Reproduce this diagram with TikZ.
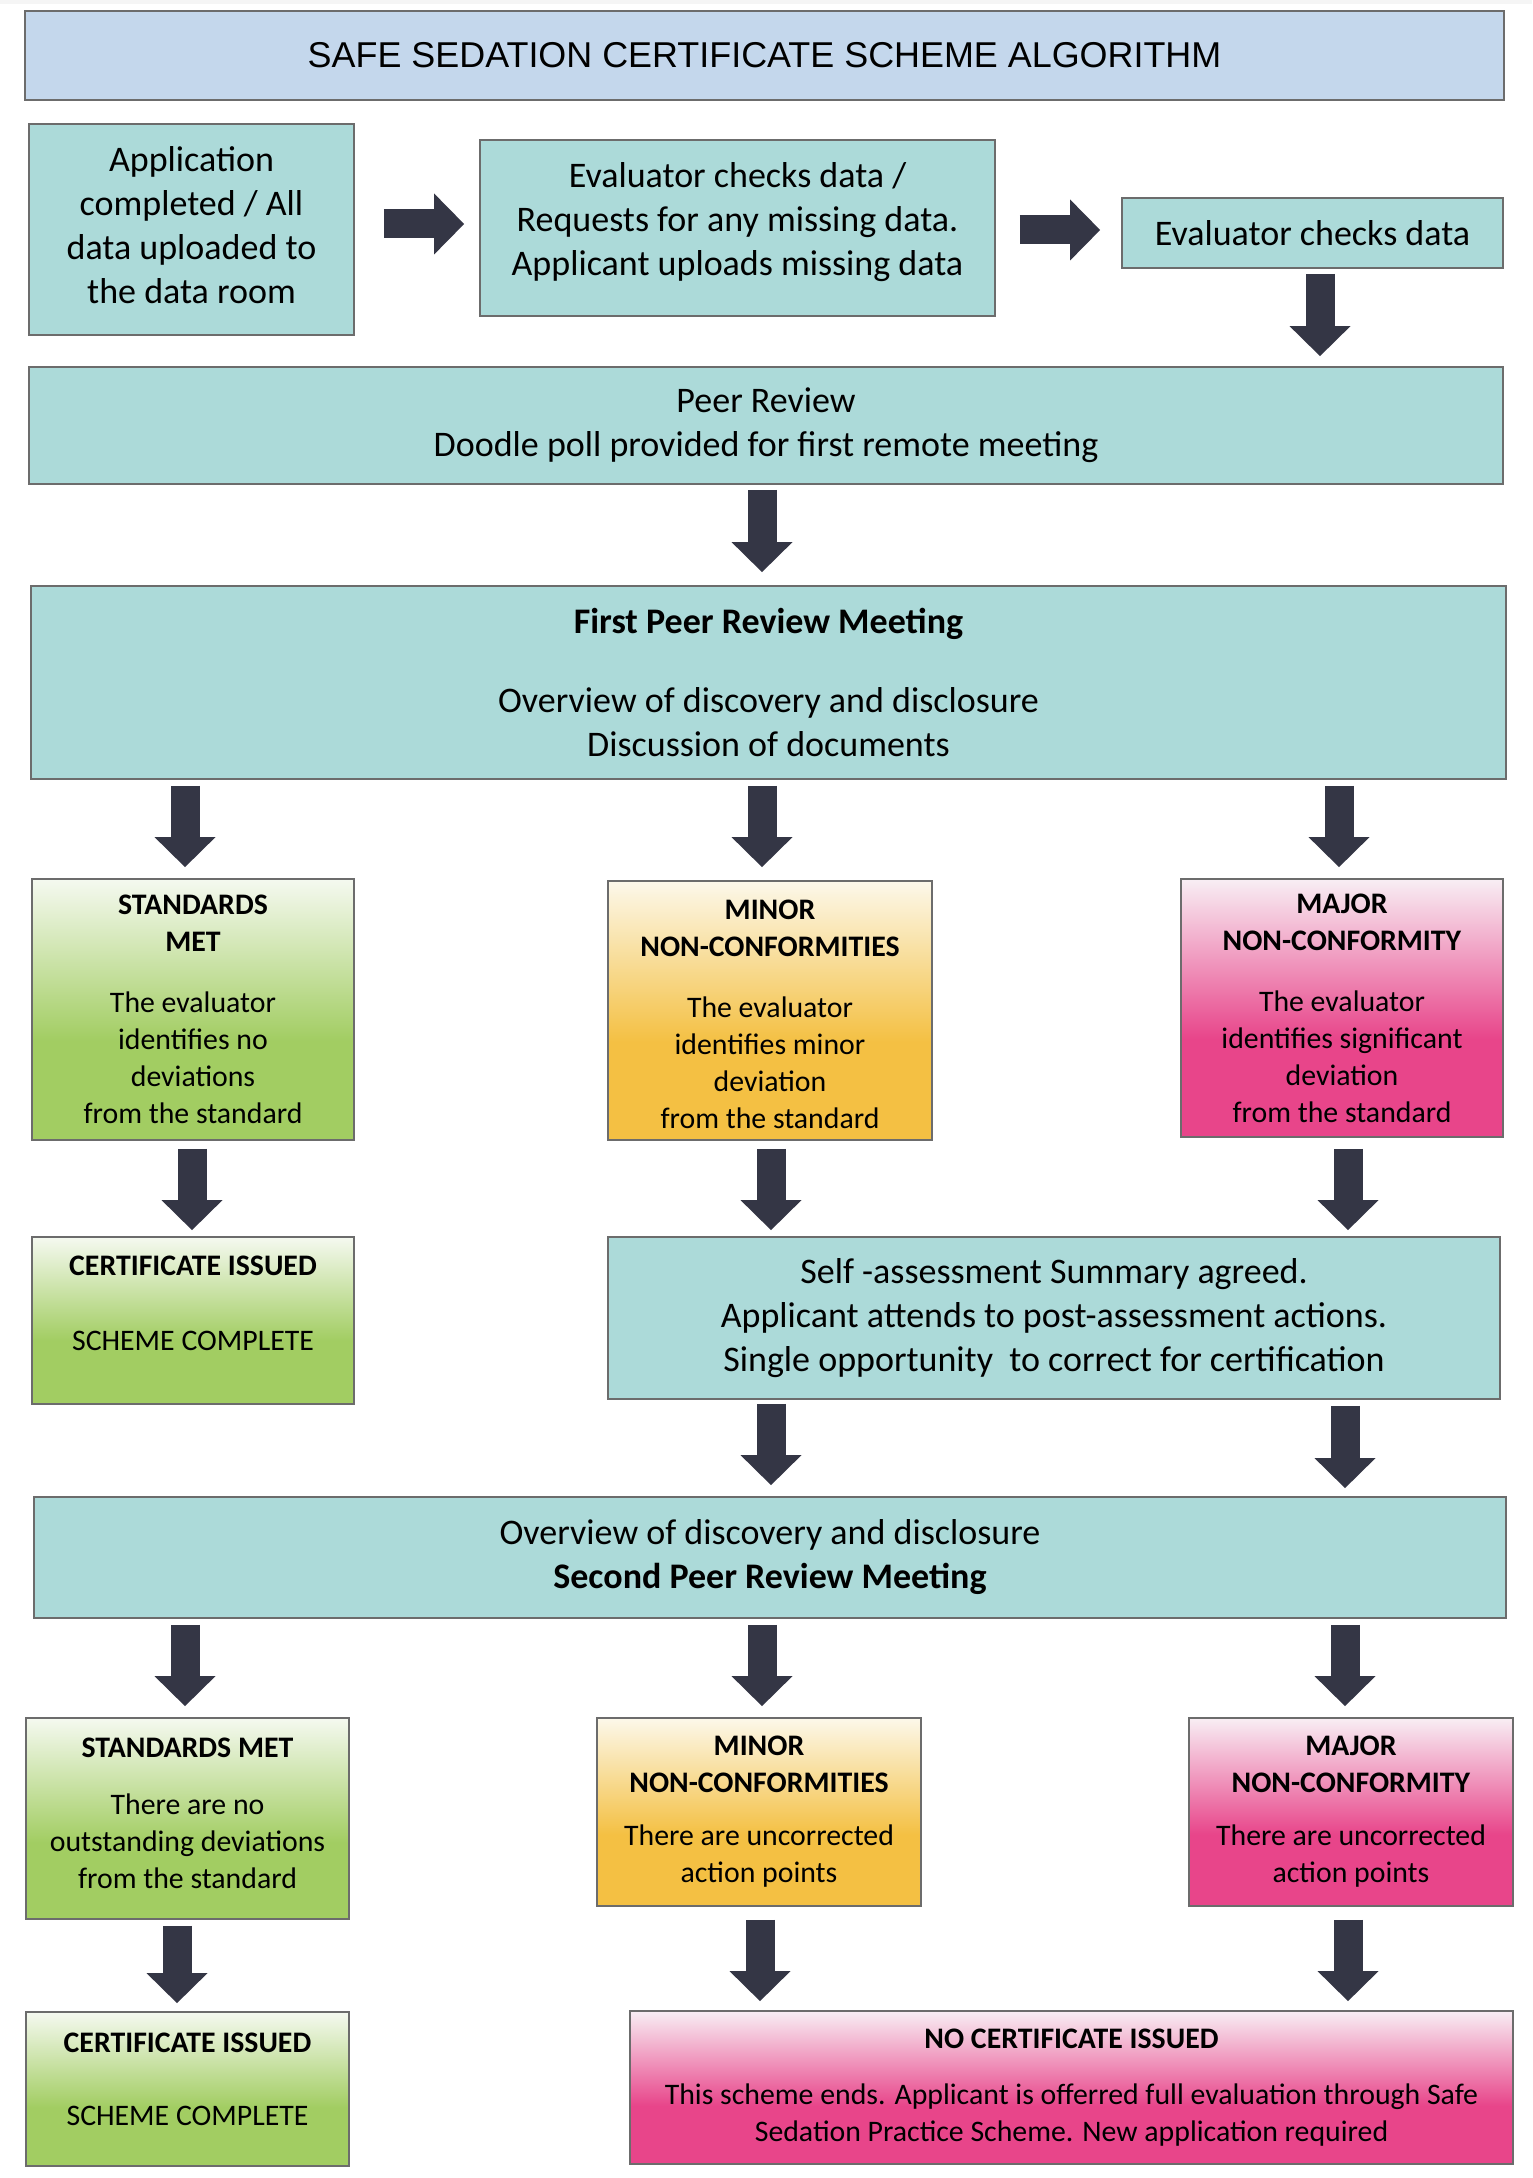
\documentclass[tikz,border=0pt]{standalone}
\usepackage{fontspec}
\setmainfont{Carlito}
\newfontfamily\arialfont{Liberation Sans}
\usetikzlibrary{arrows.meta,calc}
\definecolor{titlefill}{RGB}{196,215,236}
\definecolor{tealfill}{RGB}{172,218,217}
\definecolor{boxline}{RGB}{108,108,108}
\definecolor{arrowc}{RGB}{52,54,69}
\definecolor{greenbot}{RGB}{162,205,98}
\definecolor{greentop}{RGB}{245,249,240}
\definecolor{yellowbot}{RGB}{244,192,67}
\definecolor{yellowtop}{RGB}{252,248,234}
\definecolor{pinkbot}{RGB}{232,69,138}
\definecolor{pinktop}{RGB}{248,238,244}
\definecolor{topstrip}{RGB}{245,245,245}
\pgfdeclareverticalshading{greenshade}{100bp}{color(0bp)=(greenbot); color(25bp)=(greenbot); color(44bp)=(greenbot); color(75bp)=(greentop); color(100bp)=(greentop)}
\pgfdeclareverticalshading{yellowshade}{100bp}{color(0bp)=(yellowbot); color(25bp)=(yellowbot); color(44bp)=(yellowbot); color(75bp)=(yellowtop); color(100bp)=(yellowtop)}
\pgfdeclareverticalshading{pinkshade}{100bp}{color(0bp)=(pinkbot); color(25bp)=(pinkbot); color(44bp)=(pinkbot); color(75bp)=(pinktop); color(100bp)=(pinktop)}
\begin{document}
\begin{tikzpicture}[x=0.5pt,y=-0.5pt,
  area/.style args={#1/#2/#3/#4}{at={({(#1+#3)/2},{(#2+#4)/2})}, minimum width={(#3-#1)*0.5pt}, minimum height={(#4-#2)*0.5pt}},
  boxbase/.style={draw=boxline, line width=0.9pt, inner sep=0pt, anchor=center, align=center, text=black},
  titlebox/.style={boxbase, fill=titlefill, font=\arialfont\fontsize{17.95pt}{21pt}\selectfont},
  tealbox/.style={boxbase, fill=tealfill, font=\fontsize{18pt}{22pt}\selectfont},
  colbox/.style={boxbase, font=\fontsize{14.9pt}{18.5pt}\selectfont},
  greenbox/.style={colbox, shade, shading=greenshade},
  yellowbox/.style={colbox, shade, shading=yellowshade},
  pinkbox/.style={colbox, shade, shading=pinkshade},
  barrow/.style={draw=arrowc, line width=14.5pt, -{Triangle[length=15pt,width=30.5pt,line width=0pt]}}
]
\useasboundingbox (0,0) rectangle (1532,2178);
\fill[white] (0,0) rectangle (1532,2178);
\fill[topstrip] (0,0) rectangle (1532,4);

% boxes
\node[titlebox, area=25/11/1504/100] (title) {SAFE SEDATION CERTIFICATE SCHEME ALGORITHM};
\node[tealbox, area=29/124/354/335] (app) {Application\\completed / All\\data uploaded to\\the data room\\[-18pt]\mbox{}};
\node[tealbox, area=480/140/995/316] (eval1) {Evaluator checks data /\\Requests for any missing data.\\Applicant uploads missing data\\[-13pt]\mbox{}};
\node[tealbox, area=1122/198/1503/268] (check) {Evaluator checks data};
\node[tealbox, area=29/367/1503/484] (peer) {Peer Review\\Doodle poll provided for first remote meeting};
\node[tealbox, area=31/586/1506/779] (peer1) {\textbf{First Peer Review Meeting}\\[17.5pt]Overview of discovery and disclosure\\Discussion of documents};

\node[greenbox, area=32/879/354/1140] (std1) {\textbf{STANDARDS}\\\textbf{MET}\\[12pt]The evaluator\\identifies no\\deviations\\from the standard};
\node[yellowbox, area=608/881/932/1140] (min1) {\mbox{}\\[-5pt]\textbf{MINOR}\\\textbf{NON-CONFORMITIES}\\[12pt]The evaluator\\identifies minor\\deviation\\from the standard};
\node[pinkbox, area=1181/879/1503/1137] (maj1) {\textbf{MAJOR}\\\textbf{NON-CONFORMITY}\\[12pt]The evaluator\\identifies significant\\deviation\\from the standard};

\node[greenbox, area=32/1237/354/1404] (cert1) {\textbf{CERTIFICATE ISSUED}\\[19pt]SCHEME COMPLETE\\[-1.5pt]\mbox{}};
\node[tealbox, area=608/1237/1500/1399] (self) {Self -assessment Summary agreed.\\Applicant attends to post-assessment actions.\\Single opportunity~ to correct for certification};
\node[tealbox, area=34/1497/1506/1618] (peer2) {Overview of discovery and disclosure\\\textbf{Second Peer Review Meeting}};

\node[greenbox, area=26/1718/349/1919] (std2) {\textbf{STANDARDS MET}\\[10pt]There are no\\outstanding deviations\\from the standard\\[-13pt]\mbox{}};
\node[yellowbox, area=597/1718/921/1906] (min2) {\textbf{MINOR}\\\textbf{NON-CONFORMITIES}\\[8pt]There are uncorrected\\action points};
\node[pinkbox, area=1189/1718/1513/1906] (maj2) {\textbf{MAJOR}\\\textbf{NON-CONFORMITY}\\[8pt]There are uncorrected\\action points};

\node[greenbox, area=26/2012/349/2166] (cert2) {\textbf{CERTIFICATE ISSUED}\\[18pt]SCHEME COMPLETE\\[-8.5pt]\mbox{}};
\node[pinkbox, area=630/2011/1513/2164] (nocert) {\textbf{NO CERTIFICATE ISSUED}\\[9.5pt]This scheme ends. Applicant is offerred full evaluation through Safe\\Sedation Practice Scheme. New application required};

% right arrows
\draw[barrow] ($(app.east)+(29,-5.5)$) -- ($(eval1.west |- app.east)+(-15,-5.5)$);
\draw[barrow] ($(eval1.east)+(24,2)$) -- ($(check.west |- eval1.east)+(-21,2)$);
% down arrows
\draw[barrow] ($(check.south)+(7.5,5)$) -- ($(check.south |- peer.north)+(7.5,-10)$);
\draw[barrow] ($(peer.south)+(-4,5)$) -- ($(peer1.north)+(-6.5,-13)$);
\draw[barrow] ($(peer1.south -| std1.north)+(-8,6)$) -- ($(std1.north)+(-8,-11)$);
\draw[barrow] ($(peer1.south -| min1.north)+(-8,6)$) -- ($(min1.north)+(-8,-13)$);
\draw[barrow] ($(peer1.south -| maj1.north)+(-3,6)$) -- ($(maj1.north)+(-3,-11)$);
\draw[barrow] ($(std1.south)+(-1,8)$) -- ($(cert1.north)+(-1,-6)$);
\draw[barrow] ($(min1.south)+(1,8)$) -- ($(self.north -| min1.south)+(1,-6)$);
\draw[barrow] ($(maj1.south)+(6,11)$) -- ($(self.north -| maj1.south)+(6,-6)$);
\draw[barrow] ($(self.south -| min1.south)+(1,4)$) -- ($(peer2.north -| min1.south)+(1,-11)$);
\draw[barrow] ($(self.south -| maj1.south)+(3,6)$) -- ($(peer2.north -| maj1.south)+(3,-8)$);
\draw[barrow] ($(peer2.south -| std2.north)+(-2.5,6)$) -- ($(std2.north)+(-2.5,-11)$);
\draw[barrow] ($(peer2.south -| min2.north)+(3,6)$) -- ($(min2.north)+(3,-11)$);
\draw[barrow] ($(peer2.south -| maj2.north)+(-6,6)$) -- ($(maj2.north)+(-6,-11)$);
\draw[barrow] ($(std2.south)+(-10.5,6)$) -- ($(cert2.north)+(-10.5,-8)$);
\draw[barrow] ($(min2.south)+(1,13)$) -- ($(nocert.north -| min2.south)+(1,-9)$);
\draw[barrow] ($(maj2.south)+(-3,13)$) -- ($(nocert.north -| maj2.south)+(-3,-9)$);
\end{tikzpicture}
\end{document}
